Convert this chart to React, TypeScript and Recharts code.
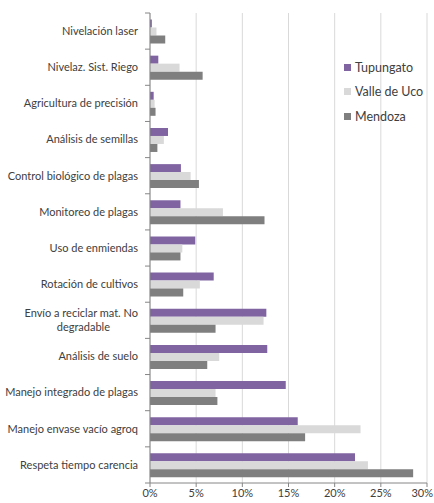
import React from "react";
import { BarChart, Bar, XAxis, YAxis, CartesianGrid, Legend } from "recharts";

const categories = [
  "Nivelación laser",
  "Nivelaz. Sist. Riego",
  "Agricultura de precisión",
  "Análisis de semillas",
  "Control biológico de plagas",
  "Monitoreo de plagas",
  "Uso de enmiendas",
  "Rotación de cultivos",
  "Envío a reciclar mat. No|degradable",
  "Análisis de suelo",
  "Manejo integrado de plagas",
  "Manejo envase vacío agroq",
  "Respeta tiempo carencia",
];
const tupungato = [0.2, 0.9, 0.4, 1.95, 3.35, 3.3, 4.9, 6.9, 12.6, 12.7, 14.7, 16.0, 22.2];
const valleDeUco = [0.7, 3.2, 0.5, 1.5, 4.4, 7.9, 3.5, 5.4, 12.3, 7.5, 7.1, 22.8, 23.6];
const mendoza = [1.65, 5.7, 0.6, 0.8, 5.3, 12.4, 3.3, 3.6, 7.1, 6.2, 7.3, 16.8, 28.5];
const xTicks = [0, 5, 10, 15, 20, 25, 30];

const seriesNames = ["Tupungato", "Valle de Uco", "Mendoza"];
const colors = ["#8064a2", "#d9d9d9", "#7f7f7f"];

const data = categories.map((c, i) => ({
  name: c,
  tupungato: tupungato[i],
  valle: valleDeUco[i],
  mendoza: mendoza[i],
}));

const W = 434;
const H = 503;
const TOP = 13;
const XH = 20;
const AXIS_X = 150;
const band = (H - TOP - XH) / categories.length;
const FONT = "Lato, 'Liberation Sans', sans-serif";

const YTick = (props: any) => {
  const { y, payload, index } = props;
  const lines = String(payload.value).split("|");
  const top = y - band / 2;
  const lineH = 14;
  const tx = AXIS_X - 12;
  return (
    <g>
      <line x1={AXIS_X - 5} x2={AXIS_X} y1={top} y2={top} stroke="#868686" />
      {index === categories.length - 1 && (
        <line x1={AXIS_X - 5} x2={AXIS_X} y1={top + band} y2={top + band} stroke="#868686" />
      )}
      {lines.map((l, k) => (
        <text
          key={k}
          x={k === 0 ? tx : tx - 28}
          y={y + (k - (lines.length - 1) / 2) * lineH}
          dy="0.35em"
          textAnchor="end"
          fontSize={11}
          fontFamily={FONT}
          fill="#404040"
        >
          {l}
        </text>
      ))}
    </g>
  );
};

const XTick = (props: any) => {
  const { x, y, payload } = props;
  const label = `${payload.value}%`;
  const isLast = payload.value === xTicks[xTicks.length - 1];
  return (
    <text
      x={isLast ? Math.min(x + 9, W - 1) : x}
      y={y}
      dy="0.71em"
      textAnchor={isLast ? "end" : "middle"}
      fontSize={11}
      fontFamily={FONT}
      fill="#404040"
    >
      {label}
    </text>
  );
};

const LegendContent = () => (
  <div
    style={{
      position: "absolute",
      left: 0,
      top: 0,
      width: 90,
      fontFamily: FONT,
      fontSize: 12.5,
      color: "#404040",
    }}
  >
    {seriesNames.map((n, i) => (
      <div key={n} style={{ display: "flex", alignItems: "center", height: 24.5 }}>
        <span
          style={{ display: "inline-block", width: 7, height: 7, background: colors[i], marginRight: 4 }}
        />
        <span>{n}</span>
      </div>
    ))}
  </div>
);

export default function App() {
  return (
    <div style={{ position: "absolute", left: 0, top: 0, background: "#fff" }}>
      <BarChart
        width={W}
        height={H}
        data={data}
        layout="vertical"
        margin={{ top: TOP, right: 7, bottom: 0, left: 0 }}
        barCategoryGap="18%"
        barGap={0}
      >
        <CartesianGrid horizontal={false} stroke="#d9d9d9" />
        <XAxis
          type="number"
          domain={[0, 30]}
          ticks={xTicks}
          height={XH}
          stroke="#868686"
          tickSize={4}
          tick={<XTick />}
          interval={0}
        />
        <YAxis
          type="category"
          dataKey="name"
          width={AXIS_X}
          stroke="#868686"
          tickLine={false}
          tick={<YTick />}
          interval={0}
        />
        <Legend
          content={<LegendContent />}
          wrapperStyle={{ position: "absolute", top: 55, left: 344, width: 0, height: 0 }}
        />
        <Bar dataKey="tupungato" name="Tupungato" fill={colors[0]} isAnimationActive={false} />
        <Bar dataKey="valle" name="Valle de Uco" fill={colors[1]} isAnimationActive={false} />
        <Bar dataKey="mendoza" name="Mendoza" fill={colors[2]} isAnimationActive={false} />
      </BarChart>
    </div>
  );
}
